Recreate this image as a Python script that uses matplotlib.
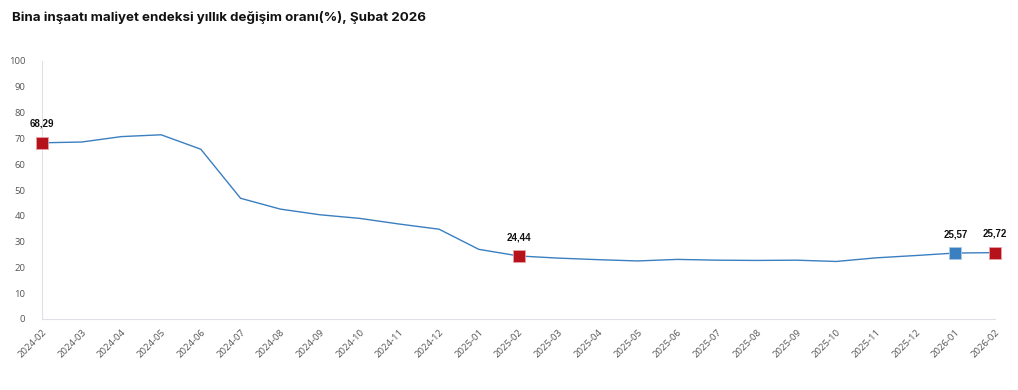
import matplotlib
matplotlib.use("Agg")
import matplotlib.pyplot as plt

months = ["2024-02", "2024-03", "2024-04", "2024-05", "2024-06", "2024-07", "2024-08",
          "2024-09", "2024-10", "2024-11", "2024-12", "2025-01", "2025-02", "2025-03",
          "2025-04", "2025-05", "2025-06", "2025-07", "2025-08", "2025-09", "2025-10",
          "2025-11", "2025-12", "2026-01", "2026-02"]
values = [68.29, 68.6, 70.7, 71.4, 65.8, 46.8, 42.6, 40.4, 39.0, 36.8, 34.8, 27.0, 24.44,
          23.6, 23.0, 22.5, 23.1, 22.8, 22.7, 22.8, 22.3, 23.7, 24.6, 25.57, 25.72]
red_idx = [0, 12, 24]
blue_idx = [23]
title = "Bina inşaatı maliyet endeksi yıllık değişim oranı(%), Şubat 2026"

def fmt(v):
    return f"{v:.2f}".replace(".", ",")

plt.rcParams['font.family'] = ['Open Sans', 'DejaVu Sans']
fig = plt.figure(figsize=(10.18, 3.9), dpi=100)
ax = fig.add_axes([42/1018, 1-319/390, (995-42)/1018, (319-61)/390])

x = list(range(len(months)))
line_color = "#3a7fc0"
ax.plot(x, values, color=line_color, lw=1.0, zorder=2)

def mark(i, face, edge):
    ax.plot(x[i], values[i], marker="s", ms=8, color=face, mec=edge, mew=0.6,
            zorder=3, clip_on=False)
    ax.annotate(fmt(values[i]), (x[i], values[i]), xytext=(0, 10), textcoords="offset points",
                ha="center", va="bottom", fontsize=7, fontweight="bold", color="#111111",
                family=["Liberation Sans", "DejaVu Sans"])

for i in red_idx:
    mark(i, "#b5121b", "#e8a0a4")
for i in blue_idx:
    mark(i, "#3a7fc0", "#a8c8e8")

ax.set_xlim(0, len(months) - 1)
ax.set_ylim(0, 100)
ax.set_yticks(range(0, 101, 10))
ax.set_xticks(x)
ax.set_xticklabels(months, rotation=45, ha="right", rotation_mode="anchor")
ax.tick_params(axis="both", length=0, labelsize=6.8, colors="#555555")
ax.tick_params(axis="y", pad=12)
ax.tick_params(axis="x", pad=6)
for s in ["top", "right"]:
    ax.spines[s].set_visible(False)
for s in ["left", "bottom"]:
    ax.spines[s].set_color("#dde0e6")
    ax.spines[s].set_linewidth(0.8)
ax.grid(False)

fig.text(12/1018, 1-18/390, title, fontsize=9.6, fontweight="bold", color="#111111",
         va="center", ha="left", family=["Inter", "DejaVu Sans"])

fig.savefig("out.png", dpi=100)
